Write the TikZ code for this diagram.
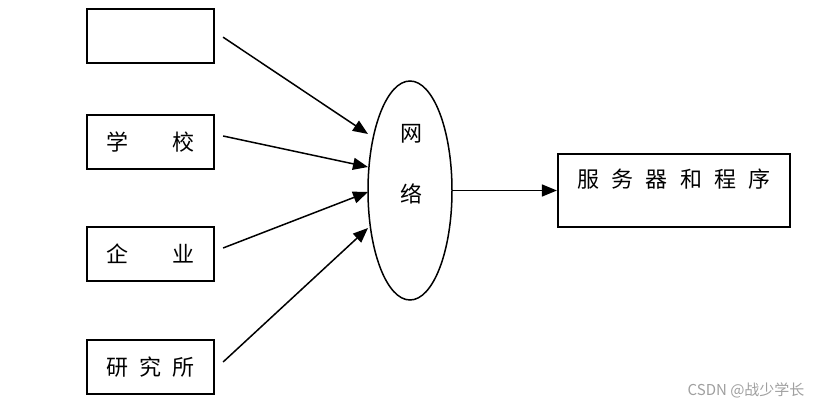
\documentclass[tikz,border=0pt]{standalone}
\usepackage{fontspec}
\newfontfamily\cjk{Noto Sans CJK SC}
\usetikzlibrary{shapes.geometric,arrows.meta}

\begin{document}
\begin{tikzpicture}[x=1pt,y=-1pt,font=\cjk\fontsize{22}{26}\selectfont,
    box/.style={draw,line width=2.2pt,minimum width=127pt,minimum height=54pt,inner sep=0pt},
    arr/.style={-{Triangle[length=15pt,width=12pt]},line width=1.5pt}]
    \useasboundingbox (0,0) rectangle (822,406);

    % sources on the left
    \node[box] (blank) at (150.5,35.7) {};
    \node[box] (school) at (150.5,142) {学\hspace{2em}校};
    \node[box] (firm) at (150.5,254) {企\hspace{2em}业};
    \node[box] (lab) at (150.5,367) {研\hspace{0.5em}究\hspace{0.5em}所};

    % the network
    \node[draw,ellipse,line width=1.5pt,minimum width=84pt,minimum height=219pt,inner sep=0pt] (net) at (410,190.5) {};
    \node (wang) at (411,134) {网};
    \node (luo) at (411,194) {络};

    % server
    \node[box,minimum width=232pt,minimum height=73pt] (server) at (674,190.5) {};
    \node (serverlbl) at (674,179) {服\hspace{0.56em}务\hspace{0.56em}器\hspace{0.56em}和\hspace{0.56em}程\hspace{0.56em}序};

    \coordinate (in1) at (368,134);
    \coordinate (in2) at (368,167);
    \coordinate (in3) at (368,192);
    \coordinate (in4) at (368,228);

    \draw[arr] ([shift={(8,1.5)}]blank.east) -- (in1);
    \draw[arr] ([shift={(8,-6)}]school.east) -- (in2);
    \draw[arr] ([shift={(8,-6)}]firm.east) -- (in3);
    \draw[arr] ([shift={(8,-5)}]lab.east) -- (in4);
    \draw[arr] (net.east) -- (server.west);

    \node[anchor=east,text=gray!75,font=\cjk\fontsize{15}{18}\selectfont] (mark) at (808,390) {CSDN @战少学长};
\end{tikzpicture}
\end{document}
